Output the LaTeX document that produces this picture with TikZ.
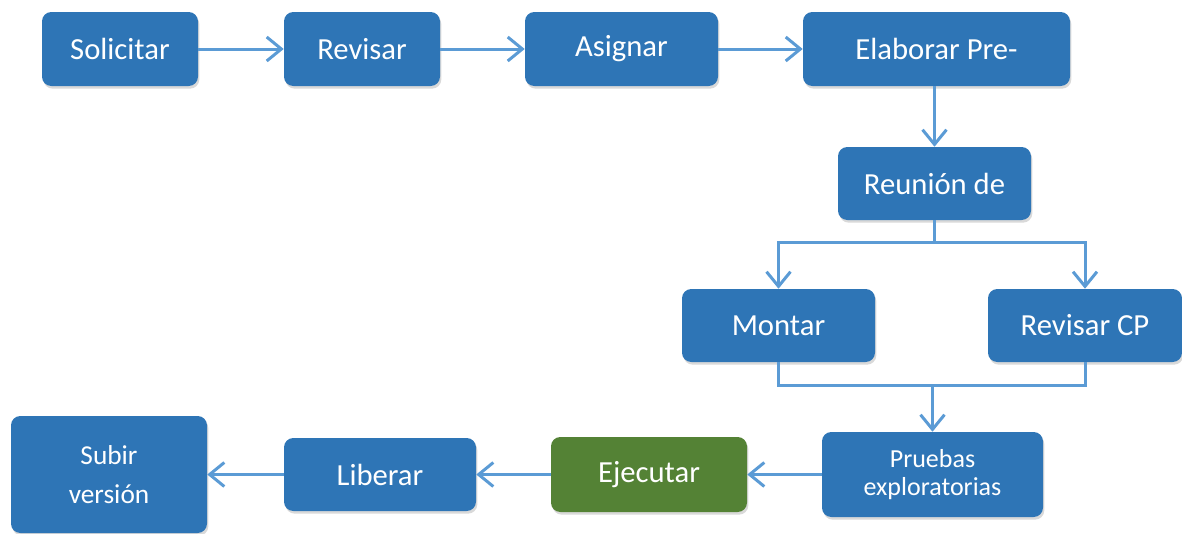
\documentclass[tikz,border=0pt]{standalone}
\usepackage{fontspec}
\setmainfont{Carlito}
\usetikzlibrary{arrows.meta,positioning,shadows}
\definecolor{FlowBlue}{RGB}{46,117,182}
\definecolor{FlowGreen}{RGB}{84,130,53}
\definecolor{FlowLine}{RGB}{91,155,213}
\tikzset{
  flow/box/.style={
    rounded corners=7pt,
    fill=FlowBlue,
    text=white,
    align=center,
    inner sep=0pt,
    minimum width=117pt,
    minimum height=55.5pt,
    font=\fontsize{23}{29}\selectfont,
    drop shadow={shadow xshift=1pt,shadow yshift=-2pt,opacity=0.3}
  },
  flow/green/.style={flow/box, fill=FlowGreen},
  flow/small/.style={font=\fontsize{19.5}{21}\selectfont},
  flow/line/.style={line width=2.25pt, draw=FlowLine},
  flow/arrow/.style={flow/line, -{Straight Barb[length=11pt,width=18pt]}}
}

\begin{document}
\begin{tikzpicture}[x=0.75pt,y=-0.75pt]
  \useasboundingbox (0,0) rectangle (1182,533);
  % top row
  \node[flow/box] (solic) at (120,49) {Solicitar};
  \node[flow/box] (revis) at (362,49) {Revisar};
  \node[flow/box,minimum width=144.75pt] (asign) at (621.5,49) {Asignar};
  \node[flow/box,minimum width=200.25pt] (elab) at (936.5,49) {Elaborar Pre-};
  % middle
  \node[flow/box,minimum width=144.75pt,minimum height=54.75pt] (reun) at (934.5,183.5) {Reunión de};
  \node[flow/box,minimum width=144.75pt,minimum height=54.75pt] (mont) at (778.5,325.5) {Montar};
  \node[flow/box,minimum width=145.5pt,minimum height=54.75pt] (revcp) at (1085,325.5) {Revisar CP};
  % bottom row
  \node[flow/box,flow/small,minimum width=165.75pt,minimum height=63.75pt] (prueb) at (932.5,474.5) {Pruebas\\exploratorias};
  \node[flow/green,minimum width=147pt,minimum height=56.25pt] (ejec) at (649,474.5) {Ejecutar};
  \node[flow/box,minimum width=144pt,minimum height=54.75pt] (liber) at (380,474.5) {Liberar};
  \node[flow/box,font=\fontsize{20.5}{29}\selectfont,minimum width=147pt,minimum height=87.75pt] (subir) at (109,474.5) {Subir\\versión};

  % connectors
  \draw[flow/arrow] (solic) -- (revis);
  \draw[flow/arrow] (revis) -- (asign);
  \draw[flow/arrow] (asign) -- (elab);
  \draw[flow/arrow] (reun.north |- elab.south) -- (reun.north);
  \draw[flow/line] (reun.south) -- ++(0,22) coordinate (fork);
  \draw[flow/arrow] (fork) -| (mont.north);
  \draw[flow/arrow] (fork) -| (revcp.north);
  \path (mont.south) -- ++(0,23) coordinate (mergeL);
  \coordinate (merge) at (prueb.north |- mergeL);
  \draw[flow/line] (mont.south) |- (merge) -| (revcp.south);
  \draw[flow/arrow] (merge) -- (prueb.north);
  \draw[flow/arrow] (prueb) -- (ejec);
  \draw[flow/arrow] (ejec) -- (liber);
  \draw[flow/arrow] (liber) -- (subir);
\end{tikzpicture}
\end{document}
